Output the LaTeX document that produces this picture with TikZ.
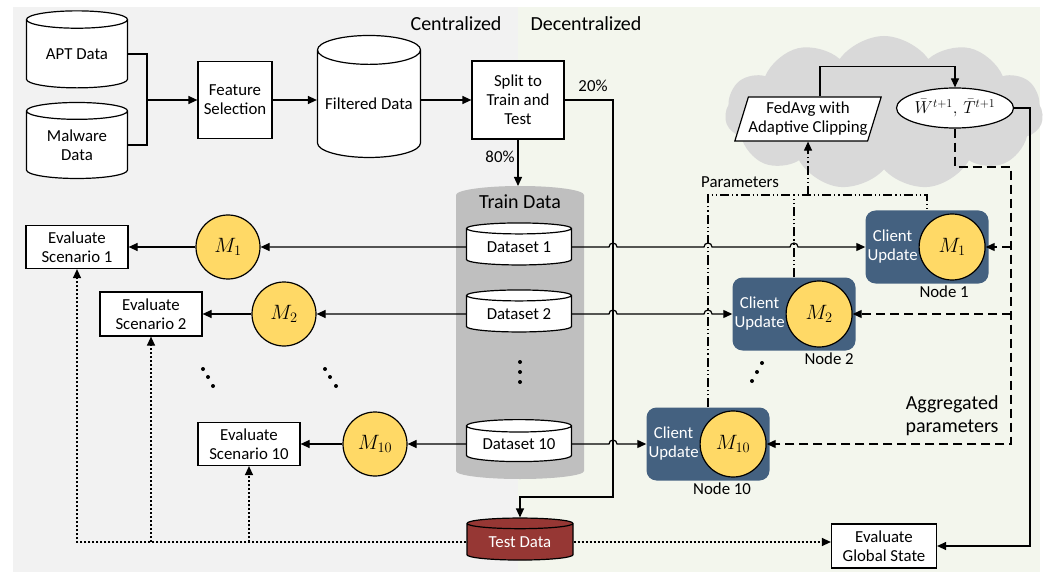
\documentclass[tikz,border=0pt]{standalone}
\usepackage{amsmath}
\usepackage{fontspec}
\setmainfont{Carlito}
\usetikzlibrary{arrows.meta,positioning,calc,shapes.geometric,shapes.symbols}
\definecolor{CG}{RGB}{242,242,242}
\definecolor{DG}{RGB}{243,246,237}
\definecolor{TG}{RGB}{191,191,191}
\definecolor{CL}{RGB}{217,217,217}
\definecolor{NB}{RGB}{68,97,128}
\definecolor{Y}{RGB}{255,217,102}
\definecolor{TR}{RGB}{150,55,52}

\tikzset{
  txt/.style={font=\fontsize{16.8}{19}\selectfont, align=center},
  big/.style={font=\fontsize{20}{23}\selectfont, align=center},
  box/.style={txt, draw, line width=1.2pt, fill=white, inner sep=0pt},
  db/.style={txt, draw, line width=1.2pt, fill=white, cylinder, shape border rotate=90, inner sep=0pt},
  model/.style={circle, draw, line width=1.2pt, fill=Y, minimum size=64pt, inner sep=0pt, font=\fontsize{22}{25}\selectfont},
  nodebox/.style={rounded corners=10pt, fill=NB, minimum width=123pt, minimum height=73pt},
  cutxt/.style={txt, text=white, inner sep=0pt},
  ln/.style={line width=1.2pt},
  arr/.style={line width=1.2pt, -{Triangle[length=9pt,width=8pt]}},
  agg/.style={arr, dash pattern=on 9pt off 5pt},
  par/.style={line width=1.1pt, dash pattern=on 9pt off 3pt on 1.2pt off 3pt on 1.2pt off 3pt},
  tst/.style={arr, line width=1.2pt, dash pattern=on 2pt off 2pt},
}

\begin{document}
\begin{tikzpicture}[x=1pt,y=1pt]
  \useasboundingbox (0,0) rectangle (1055,-572);
  % backgrounds
  \fill[CG] (13,-7) rectangle (518,-572);
  \fill[DG] (518,-7) rectangle (1040,-572);
  \node[big, anchor=east] at (505,-24) {Centralized};
  \node[big, anchor=west] at (527,-24) {Decentralized};
  \node[cloud, cloud puffs=11, cloud puff arc=110, aspect=2.1, fill=CL, minimum width=318pt, minimum height=154pt] (cl) at (884,-113) {};

  % data preparation
  \node[db, minimum width=101pt, minimum height=77pt, shape aspect=0.28] (apt) at (77,-54) {APT Data};
  \node[db, minimum width=101pt, minimum height=76pt, shape aspect=0.28] (mal) at (77,-145) {Malware\\Data};
  \node[box, minimum width=74pt, minimum height=77pt] (fs) at (235,-100) {Feature\\Selection};
  \node[db, minimum width=103pt, minimum height=122pt, shape aspect=0.33] (fd) at (369,-104) {Filtered Data};
  \node[box, minimum width=92pt, minimum height=78pt] (sp) at (518,-100) {Split to\\Train and\\Test};
  \node[txt] at (593,-86) {20\%};
  \node[txt] at (500,-157) {80\%};

  \coordinate (jn) at (147,-100);
  \draw[ln] (apt.east) -| (jn);
  \draw[ln] (mal.east) -| (jn);
  \draw[arr] (jn) -- (fs.west);
  \draw[arr] (fs.east) -- (fs.east -| fd.west);
  \draw[arr] (fd.east |- sp.west) -- (sp.west);

  % train data
  \fill[TG] (456,-195) arc[start angle=180, end angle=0, x radius=64, y radius=9]
    -- (584,-471) arc[start angle=0, end angle=-180, x radius=64, y radius=8] -- cycle;
  \coordinate (trtop) at (520,-186);
  \node[big] at (520,-202) {Train Data};
  \node[db, minimum width=105pt, minimum height=42pt, shape aspect=0.17] (ds1) at (519,-247) {Dataset 1};
  \node[db, minimum width=105pt, minimum height=42pt, shape aspect=0.17] (ds2) at (519,-314) {Dataset 2};
  \node[db, minimum width=105pt, minimum height=42pt, shape aspect=0.17] (ds10) at (519,-444) {Dataset 10};
  \node[db, fill=TR, text=white, minimum width=106pt, minimum height=42pt, shape aspect=0.17] (td) at (520,-542) {Test Data};
  \draw[arr] (sp.south) -- (sp.south |- trtop);
  \coordinate (tx) at (613,0);
  \coordinate (tj) at (520,-497);
  \draw[arr] (sp.east) -- (sp.east -| tx) -- (tx |- tj) -- (tj) -- (td.top);

  % centralized scenarios
  \node[box, minimum width=102pt, minimum height=43pt] (ev1) at (77,-247) {Evaluate\\Scenario 1};
  \node[box, minimum width=102pt, minimum height=44pt] (ev2) at (151,-314) {Evaluate\\Scenario 2};
  \node[box, minimum width=102pt, minimum height=43pt] (ev10) at (249,-444) {Evaluate\\Scenario 10};
  \node[model] (mc1) at (228,-247) {$M_1$};
  \node[model] (mc2) at (284,-314) {$M_2$};
  \node[model] (mc10) at (375,-444) {$M_{10}$};
  \draw[arr] (ds1.west) -- (mc1.east);
  \draw[arr] (mc1.west) -- (ev1.east);
  \draw[arr] (ds2.west) -- (mc2.east);
  \draw[arr] (mc2.west) -- (ev2.east);
  \draw[arr] (ds10.west) -- (mc10.east);
  \draw[arr] (mc10.west) -- (ev10.east);
  \draw[tst] (td.west) -- (td.west -| ev1.south) -- (ev1.south);
  \draw[tst] (td.west -| ev2.south) -- (ev2.south);
  \draw[tst] (td.west -| ev10.south) -- (ev10.south);

  % dots
  \foreach \x/\y in {520/362, 520/372, 520/382, 203/369, 208/377, 213/386, 325/369, 330/377, 336/386, 762/363, 757/372, 752/381}
    \fill (\x,-\y) circle (2);

  % clients
  \node[nodebox] (n1) at (927,-247) {};
  \node[nodebox] (n2) at (794,-314) {};
  \node[nodebox] (n10) at (708,-444) {};
  \node[model, minimum size=66pt, left=3pt of n1.east] (mn1) {$M_1$};
  \node[model, minimum size=66pt, left=3pt of n2.east] (mn2) {$M_2$};
  \node[model, minimum size=66pt, left=3pt of n10.east] (mn10) {$M_{10}$};
  \node[cutxt, right=2pt of n1.west] {Client\\Update};
  \node[cutxt, right=2pt of n2.west] {Client\\Update};
  \node[cutxt, right=2pt of n10.west] {Client\\Update};
  \node[txt, below=2pt of mn1, xshift=-8pt] {Node 1};
  \node[txt, below=2pt of mn2, xshift=10pt] {Node 2};
  \node[txt, below=2pt of mn10, xshift=-11pt] {Node 10};

  % server
  \node[trapezium, trapezium left angle=68, trapezium right angle=112, trapezium stretches=true, draw, line width=1.2pt, fill=white, txt, minimum width=143pt, minimum height=44pt, inner sep=0pt] (fa) at (808,-119) {FedAvg with\\Adaptive Clipping};
  \node[ellipse, draw, line width=1.2pt, fill=white, minimum width=117pt, minimum height=40pt] (wt) at (955,-108) {};
  \node[font=\fontsize{18}{21}\selectfont, inner sep=0pt] at (wt) {$\bar{W}^{t+1},\,\bar{T}^{t+1}$};
  \draw[arr] ([xshift=12pt]fa.north) -- ++(0,30) -| (wt.north);
  \node[box, minimum width=105pt, minimum height=44pt] (evg) at (884,-546) {Evaluate\\Global State};
  \coordinate (rx) at (1030,0);
  \draw[arr] (wt.east) -- (wt.east -| rx) -- (rx |- evg.east) -- (evg.east);
  \draw[tst] (td.east) -- (td.east -| evg.west);

  % dataset rows to clients
  \draw[arr] (ds1.east) -- ($(ds1.east -| tx)-(4,0)$) arc[start angle=180, end angle=0, radius=4]
    -- ($(ds1.east -| n10.north)-(4,0)$) arc[start angle=180, end angle=0, radius=4]
    -- ($(ds1.east -| n2.north)-(4,0)$) arc[start angle=180, end angle=0, radius=4] -- (n1.west);
  \draw[arr] (ds2.east) -- ($(ds2.east -| tx)-(4,0)$) arc[start angle=180, end angle=0, radius=4]
    -- ($(ds2.east -| n10.north)-(4,0)$) arc[start angle=180, end angle=0, radius=4] -- (n2.west);
  \draw[arr] (ds10.east) -- ($(ds10.east -| tx)-(4,0)$) arc[start angle=180, end angle=0, radius=4] -- (n10.west);

  % parameters
  \coordinate (pq) at (0,-195);
  \node[txt] at (740,-182) {Parameters};
  \draw[par] (n10.north) -- (n10.north |- pq) -- (n1.north |- pq) -- (n1.north);
  \draw[par] (n2.north) -- (n2.north |- pq);
  \draw[par, -{Triangle[length=9pt,width=8pt]}] (fa.south |- pq) -- (fa.south);

  % aggregated parameters
  \coordinate (ag) at (1011,-167);
  \draw[agg] (wt.south) -- (wt.south |- ag) -- (ag) -- (ag |- mn10.east) -- (mn10.east);
  \draw[agg] (ag |- mn1.east) -- (mn1.east);
  \draw[agg] (ag |- mn2.east) -- (mn2.east);
  \node[big, align=right, anchor=east] at (1002,-416) {Aggregated\\parameters};
\end{tikzpicture}
\end{document}
